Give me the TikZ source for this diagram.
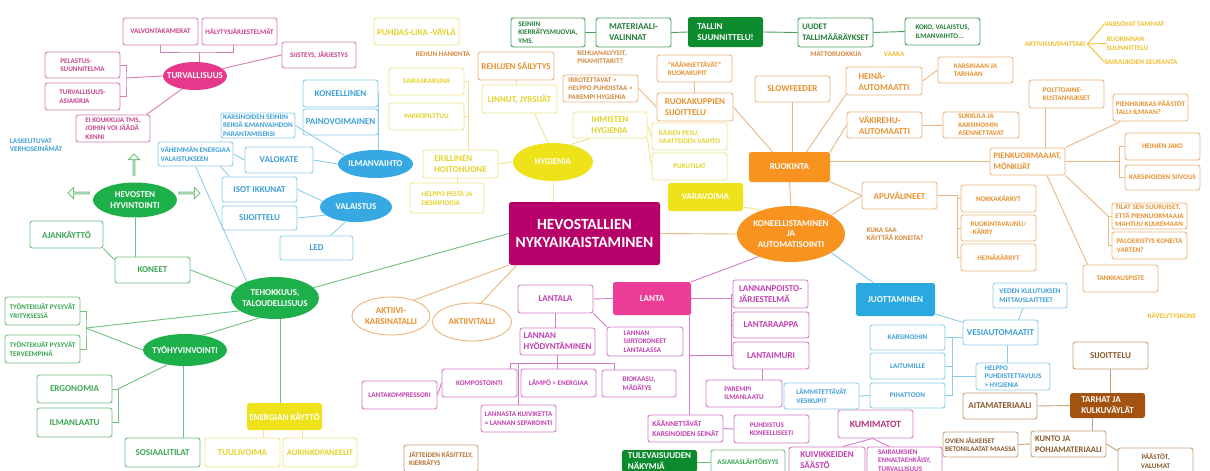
\documentclass[tikz,border=0pt]{standalone}
\usepackage{fontspec}
\setmainfont{Carlito}
\usetikzlibrary{shapes.geometric,shapes.arrows}
\definecolor{pkF}{HTML}{E6398B}\definecolor{pkL}{HTML}{D67FB2}\definecolor{pkT}{HTML}{C9438C}
\definecolor{blF}{HTML}{36A9E3}\definecolor{blL}{HTML}{8CCCEB}\definecolor{blT}{HTML}{3E9FD6}
\definecolor{yeF}{HTML}{EEE31B}\definecolor{yeL}{HTML}{EFE48F}\definecolor{yeT}{HTML}{E3D32A}
\definecolor{grF}{HTML}{1DAF4A}\definecolor{grL}{HTML}{72BF80}\definecolor{grT}{HTML}{3AA652}
\definecolor{dgF}{HTML}{0C8A2E}\definecolor{dgL}{HTML}{4A9E5C}\definecolor{dgT}{HTML}{227F38}
\definecolor{orF}{HTML}{F7931E}\definecolor{orL}{HTML}{E9B781}\definecolor{orT}{HTML}{E8912F}
\definecolor{obT}{HTML}{D4883C}\definecolor{goT}{HTML}{F0BF2E}
\definecolor{ltF}{HTML}{EC3C96}\definecolor{ltL}{HTML}{D47CC9}\definecolor{ltT}{HTML}{C23FB0}\definecolor{kmT}{HTML}{B23080}
\definecolor{cenF}{HTML}{B8006A}
\definecolor{cyF}{HTML}{2AA9E1}
\definecolor{brF}{HTML}{A4520F}\definecolor{brL}{HTML}{C7A07C}\definecolor{brT}{HTML}{8A5A2C}\definecolor{jtT}{HTML}{B8702C}
\begin{document}
\begin{tikzpicture}[x=1pt,y=-1pt,
  sm/.style={font=\bfseries\fontsize{7.1}{8.4}\selectfont},
  md/.style={font=\bfseries\fontsize{9}{11}\selectfont},
  mdn/.style={font=\bfseries\fontsize{8.5}{10.8}\selectfont},
  sz/.style 2 args={minimum width=#1, minimum height=#2},
  bx/.style={rectangle, rounded corners=2.5, line width=0.9, fill=white, inner sep=1, align=left, minimum width=75, minimum height=27},
  fb/.style={rectangle, rounded corners=2.5, inner sep=1, align=left, text=white, minimum width=75, minimum height=27, md},
  el/.style={ellipse, inner xsep=-6, inner ysep=0, align=center, text=white, font=\bfseries\fontsize{9}{10.7}\selectfont},
  oel/.style={ellipse, draw=orL, line width=0.9, fill=white, inner xsep=-6, inner ysep=0, align=center, text=orT, md},
  txt/.style={inner sep=0, align=left, sm},
  ln/.style={draw=#1, line width=0.9},
  arw/.style={single arrow, draw=grL, fill=white, line width=0.9, minimum height=21, minimum width=11, single arrow head extend=2.5, inner sep=0},
  cPK/.style={bx, draw=pkL, text=pkT},
  cBL/.style={bx, draw=blL, text=blT},
  cYE/.style={bx, draw=yeL, text=yeT},
  cGR/.style={bx, draw=grL, text=grT},
  cDG/.style={bx, draw=dgL, text=dgT},
  cOR/.style={bx, draw=orL, text=orT},
  cLT/.style={bx, draw=ltL, text=ltT},
  cCY/.style={bx, draw=blL, text=blT},
  cBR/.style={bx, draw=brL, text=brT},
  cJT/.style={bx, draw=brL, text=jtT}]
\useasboundingbox (0,0) rectangle (1210,471);
\clip (0,0) rectangle (1210,471);
\fill[white] (0,0) rectangle (1210,471);

% ---------- pink: turvallisuus
\node[cPK,sm] (valv) at (160.5,31.5) {VALVONTAKAMERAT};
\node[cPK,sm] (haly) at (239.5,31.5) {HÄLYTYSJÄRJESTELMÄT};
\node[el,fill=pkF,sz={64}{28}] (turv) at (195,76) {TURVALLISUUS};
\node[cPK,sm,sz={75}{26}] (pela) at (82.5,65) {PELASTUS-\\SUUNNITELMA};
\node[cPK,sm] (tasia) at (82.5,96.5) {TURVALLISUUS-\\ASIAKIRJA};
\node[cPK,sm,sz={74}{27}] (kouk) at (113,128.5) {EI KOUKKUJA TMS,\\JOIHIN VOI JÄÄDÄ\\KIINNI};
\node[cPK,sm,sz={74}{26}] (siis) at (319,55) {SIISTEYS, JÄRJESTYS};

% ---------- blue
\node[txt,text=blT] (lask) at (36,145) {LASKEUTUVAT\\VERHOSEINÄMÄT};
\node[cBL,md] (kone) at (340.5,93.5) {KONEELLINEN};
\node[cBL,md,sz={75}{26}] (paino) at (340.5,122) {PAINOVOIMAINEN};
\node[el,fill=blF,sz={75}{28}] (ilma) at (375.5,164) {ILMANVAIHTO};
\node[cBL,sm,sz={74}{25}] (karsr) at (258,125.5) {KARSINOIDEN SEINIIN\\REIKIÄ ILMANVAIHDON\\PARANTAMISEKSI};
\node[cBL,sm,sz={75}{24}] (vahem) at (195.5,154) {VÄHEMMÄN ENERGIAA\\VALAISTUKSEEN};
\node[cBL,md,sz={68}{26}] (valok) at (279,160) {VALOKATE};
\node[cBL,md,sz={75}{25}] (isot) at (259.5,189.5) {ISOT IKKUNAT};
\node[cBL,md,sz={75}{24}] (sijo) at (259.5,218) {SIJOITTELU};
\node[cBL,md,sz={73}{24}] (led) at (316.5,248) {LED};
\node[el,fill=blF,sz={72}{30}] (vala) at (356,207) {VALAISTUS};

% ---------- green
\node[el,fill=grF,sz={84}{35}] (hevh) at (135,200) {HEVOSTEN\\HYVINTOINTI};
\node[arw,shape border rotate=90] (aup) at (134,165) {};
\node[arw,shape border rotate=180] (alf) at (79,193) {};
\node[arw] (art) at (189,193) {};
\node[cGR,md,sz={73}{27}] (ajan) at (66.5,234.5) {AJANKÄYTTÖ};
\node[cGR,md,sz={75}{26}] (koneet) at (152.5,270) {KONEET};
\node[el,fill=grF,sz={88}{42}] (tehok) at (275,298) {TEHOKKUUS,\\TALOUDELLISUUS};
\node[cGR,sm,sz={75}{28}] (tyoy) at (42.5,311) {TYÖNTEKIJÄT PYSYVÄT\\YRITYKSESSÄ};
\node[cGR,sm,sz={75}{28}] (tyot) at (42.5,349) {TYÖNTEKIJÄT PYSYVÄT\\TERVEEMPINÄ};
\node[el,fill=grF,sz={84}{32}] (tyoh) at (185,350) {TYÖHYVINVOINTI};
\node[cGR,md,sz={75}{28}] (ergo) at (74.5,389) {ERGONOMIA};
\node[cGR,md,sz={75}{29}] (ilml) at (74.5,422.5) {ILMANLAATU};
\node[cGR,md,sz={75}{29}] (sosi) at (162.5,452.5) {SOSIAALITILAT};
\node[fb,fill=yeF] (ener) at (284.5,416.5) {ENERGIAN KÄYTTÖ};
\node[cYE,md,sz={75}{29}] (tuul) at (242.5,452.5) {TUULIVOIMA};
\node[cYE,mdn,sz={74}{29}] (auri) at (320,452.5) {AURINKOPANEELIT};

% ---------- yellow: hygienia
\node[cYE,md,sz={85}{27}] (puhd) at (416.5,31.5) {PUHDAS-LIKA -VÄYLÄ};
\node[txt,text=obT] (rhank) at (443,54) {REHUN HANKINTA};
\node[cYE,sm] (sair) at (426.5,81.5) {SAIRASKARSINA};
\node[cYE,sm] (pakk) at (426.5,116.5) {PAKKOPILTTUU};
\node[cYE,md,sz={75}{28}] (eril) at (460.5,164) {ERILLINEN\\HOITOHUONE};
\node[cYE,sm,sz={74}{30}] (help1) at (447,198) {HELPPO PESTÄ JA\\DESINFIOIDA};
\node[el,fill=yeF,sz={80}{38}] (hyg) at (553,162) {HYGIENIA};
\node[cOR,md,sz={76}{28}] (rsail) at (516,66) {REHUJEN SÄILYTYS};
\node[cYE,md,sz={75}{28}] (linn) at (519.5,99) {LINNUT, JYRSIJÄT};
\node[cYE,md,sz={74}{26}] (ihm) at (610,125) {IHMISTEN\\HYGIENIA};
\node[cYE,sm] (kasi) at (689.5,136.5) {KÄSIEN PESU,\\VAATTEIDEN VAIHTO};
\node[cYE,sm] (puku) at (689.5,166.5) {PUKUTILAT};
\node[fb,fill=yeF,sz={75}{28}] (vara) at (705.5,197) {VARAVOIMA};

% ---------- dark green top
\node[cDG,sm,sz={74}{29}] (seiniin) at (548,32.5) {SEINIIN\\KIERRÄTYSMUOVIA,\\YMS.};
\node[cDG,md,sz={75}{29}] (mater) at (633.5,32.5) {MATERIAALI-\\VALINNAT};
\node[fb,fill=dgF,sz={75}{30}] (tallin) at (725.5,32) {TALLIN\\SUUNNITTELU!};
\node[cDG,mdn,sz={75}{29}] (uudet) at (835.5,32.5) {UUDET\\TALLIMÄÄRÄYKSET};
\node[cDG,sm,sz={75}{27}] (koko) at (942.5,31.5) {KOKO, VALAISTUS,\\ILMANVAIHTO...};

% ---------- orange: ruokinta
\node[txt,text=obT] (ranal) at (602,57) {REHUANALYYSIT,\\PIKAMITTARIT?};
\node[cOR,sm] (kaan) at (694.5,68.5) {"KÄÄNNETTÄVÄT"\\RUOKAKUPIT};
\node[cOR,md,sz={76}{28}] (ruokk) at (695,107) {RUOKAKUPPIEN\\SIJOITTELU};
\node[cOR,sm,text=obT] (irro) at (600.5,88.5) {IRROTETTAVAT >\\HELPPO PUHDISTAA >\\PAREMPI HYGIENIA};
\node[cOR,md,sz={75}{26}] (slow) at (792.5,89) {SLOWFEEDER};
\node[cOR,md,sz={76}{28}] (hein) at (884,81) {HEINÄ-\\AUTOMAATTI};
\node[cOR,md,sz={75}{26}] (vaki) at (884.5,125) {VÄKIREHU-\\AUTOMAATTI};
\node[cOR,sm,sz={75}{26}] (karta) at (975.5,70) {KARSINAAN JA\\TARHAAN};
\node[cOR,sm,sz={76}{26}] (sukk) at (981,125) {SUKKULA JA\\KARSINOIHIN\\ASENNETTAVAT};
\node[fb,fill=orF,sz={81}{30}] (ruok) at (789.5,167) {RUOKINTA};
\node[el,fill=orF,sz={108}{56}] (kauto) at (791,234) {KONEELLISTAMINEN\\JA\\AUTOMATISOINTI};
\node[cOR,md] (apuv) at (899.5,195.5) {APUVÄLINEET};
\node[txt,text=obT] (kuka) at (895,234) {KUKA SAA\\KÄYTTÄÄ KONEITA?};
\node[cOR,sm] (nokk) at (998.5,198.5) {NOKKAKÄRRYT};
\node[cOR,sm,sz={75}{26}] (rvau) at (998.5,228) {RUOKINTAVAUNU/\\-KÄRRY};
\node[cOR,sm] (heik) at (998.5,257.5) {HEINÄKÄRRYT};
\node[cOR,mdn] (pienk) at (1027.5,161.5) {PIENKUORMAAJAT,\\MÖNKIJÄT};
\node[cOR,sm,sz={75}{28}] (polt) at (1066.5,94) {POLTTOAINE-\\KUSTANNUKSET};
\node[cOR,sm] (pienh) at (1150.5,107.5) {PIENHIUKKAS-PÄÄSTÖT\\TALLI-ILMAAN?};
\node[cOR,sm] (hjako) at (1162.5,146.5) {HEINIEN JAKO};
\node[cOR,sm,sz={75}{25}] (ksiiv) at (1162.5,177.5) {KARSINOIDEN SIIVOUS};
\node[cOR,sm,sz={75}{26}] (tilat) at (1149.5,216) {TILAT SEN SUURUISET,\\ETTÄ PIENKUORMAAJA\\MAHTUU KULKEMAAN};
\node[cOR,sm] (palo) at (1149.5,245.5) {PALOERISTYS KONEITA\\VARTEN?};
\node[cOR,sm] (tank) at (1120.5,278.5) {TANKKAUSPISTE};
\node[txt,text=obT] (matto) at (836,54) {MATTORUOKKIJA};
\node[txt,text=goT] (vaaka) at (894,54) {VAAKA};
\node[txt,text=goT] (aktm) at (1055,44) {AKTIVISUUSMITTARI};
\node[txt,text=goT] (vars) at (1134.5,24) {VARSOVAT TAMMAT};
\node[txt,text=goT] (ruoks) at (1127.5,43.5) {RUOKINNAN\\SUUNNITTELU};
\node[txt,text=goT] (sairs) at (1141,62) {SAIRAUKSIEN SEURANTA};
\node[txt,text=goT] (kavel) at (1172,316) {KÄVELYTYSKONE};

% ---------- centre
\node[fb,fill=cenF,sz={151}{63},align=center,font=\bfseries\fontsize{15.5}{18.5}\selectfont] (cent) at (584.5,233.5) {HEVOSTALLIEN\\NYKYAIKAISTAMINEN};
\node[oel,sz={78}{38}] (akk) at (391,316) {AKTIIVI-\\KARSINATALLI};
\node[oel,sz={79}{38}] (akt) at (472,322) {AKTIIVITALLI};

% ---------- lanta
\node[fb,fill=ltF,sz={78}{33}] (lanta) at (652,298.5) {LANTA};
\node[cLT,md,sz={75}{28}] (lantala) at (555.5,299) {LANTALA};
\node[cLT,sm,sz={76}{29}] (siirto) at (645,341.5) {LANNAN\\SIIRTOKONEET\\LANTALASSA};
\node[cLT,md,sz={75}{27}] (hyod) at (557.5,341.5) {LANNAN\\HYÖDYNTÄMINEN};
\node[cLT,sm,sz={74}{27}] (bio) at (639,383.5) {BIOKAASU,\\MÄDÄTYS};
\node[cLT,sm,sz={75}{28}] (lampo) at (558.5,383) {LÄMPÖ > ENERGIAA};
\node[cLT,sm,sz={75}{28}] (komp) at (479.5,383) {KOMPOSTOINTI};
\node[cLT,sm,sz={75}{27},align=center] (lkuiv) at (518.5,418.5) {LANNASTA KUIVIKETTA\\= LANNAN SEPAROINTI};
\node[cLT,sm,sz={75}{28}] (lkomp) at (399.5,395) {LANTAKOMPRESSORI};
\node[cLT,md,sz={75}{28}] (lpoisto) at (770.5,294) {LANNANPOISTO-\\JÄRJESTELMÄ};
\node[cLT,md,sz={76}{26}] (lraap) at (771,325) {LANTARAAPPA};
\node[cLT,md,sz={76}{27}] (limuri) at (771,355.5) {LANTAIMURI};
\node[cLT,sm,sz={76}{27}] (parempi) at (744,393.5) {PAREMPI\\ILMANLAATU};
\node[cLT,font=\bfseries\fontsize{7.4}{9.5}\selectfont,sz={75}{27}] (kaant) at (685.5,428.5) {KÄÄNNETTÄVÄT\\KARSINOIDEN SEINÄT};
\node[cLT,sm,sz={75}{28}] (puhd2) at (771.5,429) {PUHDISTUS\\KONEELLISESTI};
\node[cLT,sz={75}{28},text=kmT,font=\bfseries\fontsize{9.6}{11}\selectfont] (kumi) at (875.5,424) {KUMIMATOT};
\node[cLT,font=\bfseries\fontsize{9}{10.5}\selectfont,sz={76}{26}] (kuiv) at (827,460) {KUIVIKKEIDEN\\SÄÄSTÖ};
\node[cLT,sm,sz={75}{27}] (sairenn) at (904.5,460.5) {SAIRAUKSIEN\\ENNALTAEHKÄISY,\\TURVALLISUUS};
\node[fb,fill=dgF,sz={75}{22},font=\bfseries\fontsize{9}{10.5}\selectfont] (tulev) at (659.5,461) {TULEVAISUUDEN\\NÄKYMIÄ};
\node[cGR,sm,sz={74}{24}] (asiak) at (748,462) {ASIAKASLÄHTÖISYYS};

% ---------- juottaminen
\node[fb,fill=cyF,sz={79}{33}] (juot) at (895.5,299.5) {JUOTTAMINEN};
\node[cCY,sm,sz={74}{25}] (veden) at (1030,295.5) {VEDEN KULUTUKSEN\\MITTAUSLAITTEET};
\node[cCY,md,sz={75}{25}] (vesia) at (1000.5,332.5) {VESIAUTOMAATIT};
\node[cCY,sm,sz={75}{25}] (karsin) at (907.5,337.5) {KARSINOIHIN};
\node[cCY,sm,sz={75}{26}] (laitu) at (907.5,366) {LAITUMILLE};
\node[cCY,sm,sz={75}{25}] (piha) at (907.5,395.5) {PIHATTOON};
\node[cCY,sm,sz={74}{27}] (help2) at (1013,376.5) {HELPPO\\PUHDISTETTAVUUS\\> HYGIENIA};
\node[cCY,sm,sz={75}{26}] (lamm) at (821.5,396) {LÄMMITETTÄVÄT\\VESIKUPIT};

% ---------- brown
\node[cBR,md,sz={75}{27}] (bsij) at (1110.5,355.5) {SIJOITTELU};
\node[fb,fill=brF,sz={75}{25}] (tarh) at (1107.5,405.5) {TARHAT JA\\KULKUVÄYLÄT};
\node[cBR,md,sz={74}{26}] (aita) at (1000,406) {AITAMATERIAALI};
\node[cBR,mdn,sz={75}{26}] (kunto) at (1068.5,444) {KUNTO JA\\POHJAMATERIAALI};
\node[cBR,sm,sz={75}{25}] (ovien) at (980.5,444.5) {OVIEN JÄLKEISET\\BETONILAATAT MAASSA};
\node[cBR,sm,sz={75}{26},align=center] (paast) at (1155.5,461) {PÄÄSTÖT,\\VALUMAT};
\node[cJT,sm,sz={74}{27}] (jatt) at (441,458.5) {JÄTTEIDEN KÄSITTELY,\\KIERRÄTYS};

% ================= connectors
% pink
\coordinate (tb) at (199,52);
\draw[ln=pkL] (valv.south) |- (tb) -| ([xshift=-6]haly.south);
\draw[ln=pkL] (tb) -- (turv.north -| tb);
\coordinate (pb) at (126,78);
\draw[ln=pkL] (pela.east) -| (pb) |- (tasia.east);
\draw[ln=pkL] (pb) -- (turv.west);
\draw[ln=pkL] (turv.225) -- ([xshift=-4]kouk.north east);
\draw[ln=pkL] (turv.15) -- (siis.west);
% blue
\draw[ln=blL] (kone.east) -| (ilma.80);
\draw[ln=blL] (paino.east) -- (paino.east -| ilma.80);
\draw[ln=blL] (karsr.east) -- (ilma.165);
\draw[ln=blL] (valok.east) -- (ilma.west);
\draw[ln=blL] (vahem.east) -- (valok.west);
\draw[ln=blL] ([xshift=-13]vahem.south east) -- ([xshift=8]isot.north west);
\draw[ln=blL] (isot.east) -- (vala.170);
\draw[ln=blL] (sijo.east) -- (vala.195);
\draw[ln=blL] ([xshift=14]led.north) -- (vala.235);
\draw[ln=blL] (vahem.south) -- (tehok.150);
% green
\draw[ln=grL] (hevh.south) -- (hevh.south |- koneet.north);
\draw[ln=grL] (ajan.south east) -- (koneet.165);
\draw[ln=grL] (koneet.east) -- (tehok.165);
\coordinate (tyb) at (86,328);
\draw[ln=grL] (tyoy.east) -| (tyb) |- (tyot.east);
\draw[ln=grL] (tyb) -- (tehok.200);
\draw[ln=grL] (tyb) -- (tyoh.west);
\draw[ln=grL] (tyoh.40) -- (tehok.232);
\coordinate (eb) at (118,389);
\draw[ln=grL] (ergo.east) -- (eb) |- (ilml.east);
\draw[ln=grL] (eb) -- (tyoh.220);
\draw[ln=grL] (tyoh.265) -- (tyoh.265 |- sosi.north);
\draw[ln=grL] (tehok.285) -- (tehok.285 |- ener.north);
\draw[ln=yeL] ([xshift=-21.5]ener.south) -- ([xshift=-21.5]ener.south |- tuul.north);
\draw[ln=yeL] ([xshift=17.5]ener.south) -- ([xshift=17.5]ener.south |- auri.north);
\draw[ln=grL] (cent.west) -- (tehok.15);
% yellow
\draw[ln=yeL] (eril.east) -- (hyg.west);
\draw[ln=yeL] ([xshift=-3]eril.south) -- ([xshift=-3]eril.south |- help1.north);
\coordinate (ebr) at (468,150);
\draw[ln=yeL] (sair.east) -| (ebr);
\draw[ln=yeL] (pakk.east) -- (pakk.east -| ebr);
\draw[ln=yeL] (rsail.south) -- (rsail.south |- linn.north);
\draw[ln=yeL] ([xshift=15]linn.south) -- (hyg.105);
\draw[ln=yeL] (hyg.45) -- ([xshift=18]ihm.south west);
\draw[ln=yeL] (ihm.east) -- (kasi.west);
\draw[ln=yeL] (ihm.south east) -- (puku.west);
\draw[ln=yeL] (hyg.south) -- (hyg.south |- cent.north);
\draw[ln=yeL] (vara.-15) -- (kauto.140);
% dark green
\draw[ln=dgL] (seiniin.east) -- (mater.west);
\draw[ln=dgL] (mater.east) -- (tallin.west);
\draw[ln=dgL] (tallin.east) -- (uudet.west);
\draw[ln=dgL] (uudet.east) -- (koko.west);
% orange
\draw[ln=orL] (kaan.south) -- (kaan.south |- ruokk.north);
\draw[ln=orL] (irro.east) -- (ruokk.west);
\draw[ln=orL] (ruokk.east) -- ([xshift=-17]ruok.north);
\draw[ln=orL] (slow.south) -- (slow.south |- ruok.north);
\draw[ln=orL] (hein.200) -- ([xshift=17]ruok.north);
\draw[ln=orL] (vaki.west) -- (ruok.north east);
\draw[ln=orL] (hein.east) -- (karta.west);
\draw[ln=orL] (vaki.east) -- (sukk.west);
\draw[ln=orL] (ruok.south) -- (kauto.north);
\draw[ln=orL] (pienk.west -| ruok.east) -- (pienk.west);
\draw[ln=orL] (ruok.-20) -- (apuv.west);
\draw[ln=orL] (kauto.25) -- (apuv.west);
\coordinate (apb) at (957,195.5);
\draw[ln=orL] (apuv.east) -- (apb) -- (apb |- heik.west) -- (heik.west);
\draw[ln=orL] (apb |- nokk.west) -- (nokk.west);
\draw[ln=orL] (apb |- rvau.west) -- (rvau.west);
\draw[ln=orL] ([xshift=17.5]pienk.north) -- ([xshift=17.5]pienk.north |- polt.south);
\draw[ln=orL] (pienk.north east) -- (pienh.205);
\coordinate (pkb) at (1119,161.5);
\draw[ln=orL] (pienk.east) -- (pkb);
\draw[ln=orL] (hjako.west) -| (pkb) |- (ksiiv.west);
\coordinate (tpb) at (1108,216);
\draw[ln=orL] (pienk.south east) -- (tpb);
\draw[ln=orL] (tilat.west) -| (tpb) |- (palo.west);
\draw[ln=orL] ([xshift=19.5]pienk.south) -- ([xshift=5]tank.north west);
\draw[ln=goT] ([xshift=2]aktm.east) -- (vars.west);
\draw[ln=goT] ([xshift=2]aktm.east) -- (ruoks.west);
\draw[ln=goT] ([xshift=2]aktm.east) -- (sairs.west);
% centre
\draw[ln=orL] (cent.east) -- (kauto.west);
\draw[ln=orL] (cent.south west) -- (akk.35);
\draw[ln=orL] ([xshift=8]cent.south west) -- (akt.65);
% lanta
\draw[ln=ltL] (kauto.215) -- (lanta.north east);
\draw[ln=ltL] (lantala.east) -- (lanta.west);
\draw[ln=ltL] (lantala.south east) -- (siirto.north west);
\draw[ln=ltL] (lantala.south) -- (lantala.south |- hyod.north);
\coordinate (hb) at (557.5,363);
\coordinate (hbl) at (510,363);
\coordinate (hbr) at (614,363);
\draw[ln=ltL] (hyod.south) -- (hb);
\draw[ln=ltL] (hbl |- komp.north) -- (hbl) -- (hbr) -- (hbr |- bio.north);
\draw[ln=ltL] (hb) -- (hb |- lampo.north);
\draw[ln=ltL] (lkuiv.north) -- (lkuiv.north |- hb);
\draw[ln=ltL] (komp.west) -- (lkomp.east);
\coordinate (lb) at (731,298.5);
\draw[ln=ltL] (lanta.east) -- (lb);
\draw[ln=ltL] (lb |- lpoisto.west) -- (lpoisto.west);
\draw[ln=ltL] (lb |- lpoisto.west) -- (lb |- limuri.west) -- (limuri.west);
\draw[ln=ltL] (lb |- lraap.west) -- (lraap.west);
\coordinate (lv) at ([xshift=37]lanta.south);
\draw[ln=ltL] (lv) -- (lv |- kaant.north);
\draw[ln=ltL] (lv |- limuri.west) -- (lb |- limuri.west);
\draw[ln=ltL] ([xshift=-9]limuri.south) -- ([xshift=-9]limuri.south |- parempi.north);
\draw[ln=ltL] (kaant.east) -- (puhd2.west);
\draw[ln=ltL] ([xshift=16]kuiv.north) -- ([xshift=-3]kumi.south) -- ([xshift=-15]sairenn.north);
\draw[ln=grL] (tulev.east |- asiak.west) -- (asiak.west);
% juottaminen
\draw[ln=blL] (kauto.-25) -- ([xshift=-22]juot.north);
\draw[ln=blL] (juot.-20) -- (vesia.165);
\draw[ln=blL] ([xshift=18]vesia.north) -- ([xshift=-7]veden.south);
\coordinate (vb) at (952,337.5);
\draw[ln=blL] (karsin.east) -- (vb) -- (vb -| vesia.west);
\draw[ln=blL] (vb) -- (vb |- piha.east) -- (piha.east);
\draw[ln=blL] (vb |- laitu.east) -- (laitu.east);
\draw[ln=blL] (vb |- help2.west) -- (help2.west);
\draw[ln=blL] ([xshift=6.5]vesia.south) -- ([xshift=6.5]vesia.south |- help2.north);
\draw[ln=blL] (lamm.east) -- (piha.west);
% brown
\draw[ln=brL] (bsij.south) -- (bsij.south |- tarh.north);
\draw[ln=brL] (aita.east) -- (tarh.west);
\draw[ln=brL] ([xshift=-15.5]tarh.south) -- ([xshift=-15.5]tarh.south |- kunto.north);
\draw[ln=brL] (ovien.east) -- (kunto.west);
\draw[ln=brL] (kunto.east) -- (paast.165);
\end{tikzpicture}
\end{document}
